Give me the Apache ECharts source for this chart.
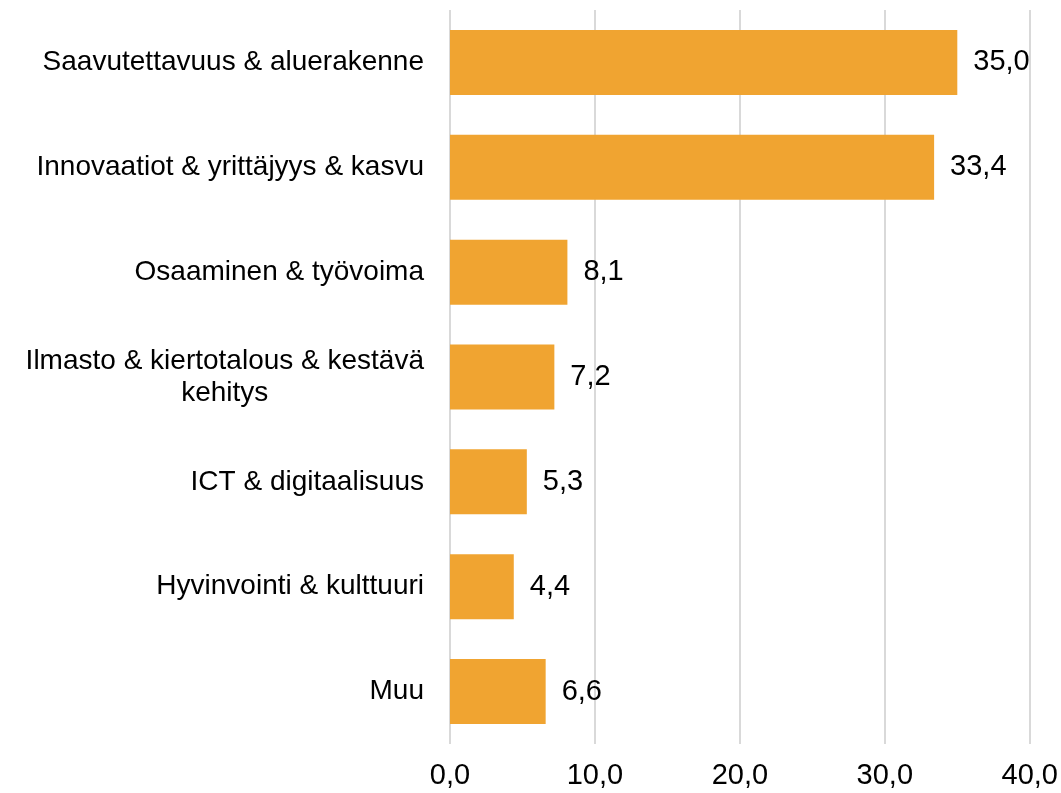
<!DOCTYPE html>
<html lang="fi">
<head>
    <meta charset="UTF-8">
    <title>Teemat</title>
    <style>
        html, body { margin: 0; padding: 0; background: #fff; }
    </style>
</head>
<body>
    <div id="main" style="width: 1061px;height:793px;"></div>
    <script src="https://cdn.jsdelivr.net/npm/echarts@6/dist/echarts.min.js"></script>
<script type="text/javascript">
    // kategoriat ylhäältä alas
    var categories = [
        'Saavutettavuus & aluerakenne',
        'Innovaatiot & yrittäjyys & kasvu',
        'Osaaminen & työvoima',
        'Ilmasto & kiertotalous & kestävä\nkehitys',
        'ICT & digitaalisuus',
        'Hyvinvointi & kulttuuri',
        'Muu'
    ];
    var values = [35.0, 33.4, 8.1, 7.2, 5.3, 4.4, 6.6];
    var xTicks = [0, 10, 20, 30, 40];

    var fontFam = '"Liberation Sans", Arial, sans-serif';

    function fmt(v) {
        return Number(v).toFixed(1).replace('.', ',');
    }

    var myChart = echarts.init(document.getElementById('main'));

    myChart.setOption({
        animation: false,
        textStyle: { fontFamily: fontFam },
        grid: { left: 450, right: 30, top: 10, bottom: 49, containLabel: false },
        xAxis: {
            type: 'value',
            min: xTicks[0],
            max: xTicks[xTicks.length - 1],
            interval: 10,
            axisLine: { show: false },
            axisTick: { show: false },
            splitLine: { show: true, lineStyle: { color: '#d9d9d9', width: 2 } },
            axisLabel: {
                margin: 17,
                fontSize: 29,
                color: '#000',
                fontFamily: fontFam,
                formatter: function (v) { return fmt(v); }
            }
        },
        yAxis: {
            type: 'category',
            inverse: true,
            data: categories,
            axisLine: { show: false },
            axisTick: { show: false },
            axisLabel: {
                margin: 26,
                color: '#000',
                fontSize: 28,
                fontFamily: fontFam,
                formatter: function (v) {
                    return v.split('\n').map(function (s) { return '{c|' + s + '}'; }).join('\n');
                },
                rich: {
                    c: { align: 'center', fontSize: 28, lineHeight: 32, color: '#000', fontFamily: fontFam }
                }
            }
        },
        series: [{
            type: 'bar',
            data: values,
            barCategoryGap: '38%',
            itemStyle: { color: '#F0A431' },
            label: {
                show: true,
                position: 'right',
                distance: 16,
                fontSize: 29,
                color: '#000',
                fontFamily: fontFam,
                formatter: function (p) { return fmt(p.value); }
            }
        }]
    });
</script>
</body>
</html>
